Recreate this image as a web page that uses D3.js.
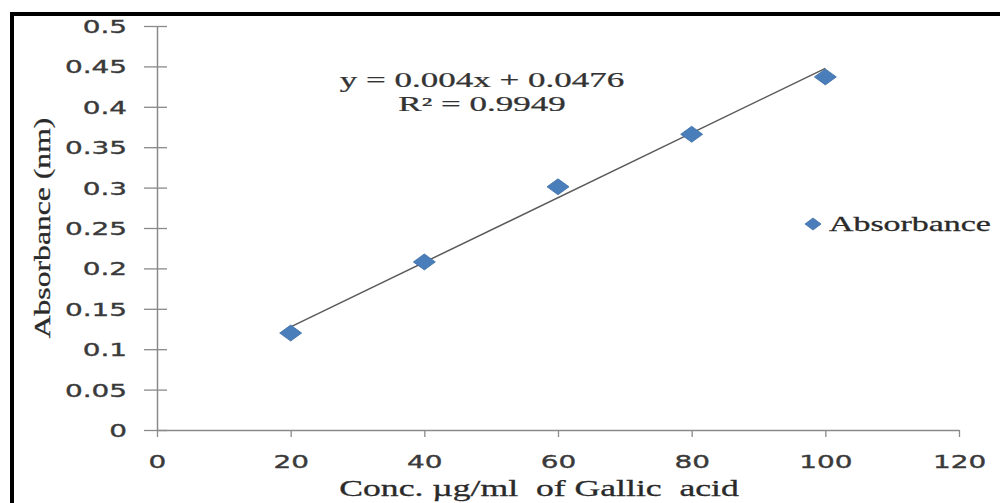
<!DOCTYPE html>
<html>
<head>
<meta charset="utf-8">
<script src="https://cdn.jsdelivr.net/npm/d3@7"></script>
<style>
  html, body { margin: 0; padding: 0; background: #fff; }
  svg { display: block; }
</style>
</head>
<body>
<svg id="chart" width="1000" height="503"></svg>
<script>
// ---- data ----
const concentrations = [20, 40, 60, 80, 100];
const absorbance = [0.12, 0.208, 0.301, 0.366, 0.437];
const trendSlope = 0.004;
const trendIntercept = 0.0476;
const equationLabel = "y = 0.004x + 0.0476";
const r2Label = "R\u00b2 = 0.9949";
const seriesName = "Absorbance";
const xTicks = [0, 20, 40, 60, 80, 100, 120];
const xTickLabels = ["0", "20", "40", "60", "80", "100", "120"];
const yTicks = [0, 0.05, 0.1, 0.15, 0.2, 0.25, 0.3, 0.35, 0.4, 0.45, 0.5];
const yTickLabels = ["0", "0.05", "0.1", "0.15", "0.2", "0.25", "0.3", "0.35", "0.4", "0.45", "0.5"];
const xTitle = "Conc. \u00b5g/ml \u00a0of Gallic \u00a0acid";
const yTitle = "Absorbance (nm)";

// ---- layout ----
const svg = d3.select("#chart");
const x = d3.scaleLinear().domain([0, 120]).range([157, 959]);
const y = d3.scaleLinear().domain([0, 0.5]).range([430, 26]);

const axisColor = "#8a8a8a";
const labelColor = "#3a3a3a";
const markerColor = "#4a7ebb";
const sansFont = "'DejaVu Sans', Verdana, sans-serif";
const serifFont = "'Liberation Serif', 'Times New Roman', serif";

svg.append("rect").attr("width", 1000).attr("height", 503).attr("fill", "#fff");

// frame (top and left black border)
svg.append("line").attr("x1", 10).attr("x2", 1000).attr("y1", 14).attr("y2", 14)
  .attr("stroke", "#000").attr("stroke-width", 4);
svg.append("line").attr("x1", 12).attr("x2", 12).attr("y1", 12).attr("y2", 503)
  .attr("stroke", "#000").attr("stroke-width", 4);

// y axis
const yAxis = svg.append("g")
  .attr("transform", `translate(${x(0)},0)`)
  .call(d3.axisLeft(y).tickValues(yTicks)
    .tickFormat((d, i) => yTickLabels[i])
    .tickSizeInner(13).tickSizeOuter(0));
yAxis.select(".domain").attr("stroke", axisColor).attr("stroke-width", 1.5);
yAxis.selectAll(".tick line").attr("x1", 10).attr("stroke", axisColor).attr("stroke-width", 1.3);
yAxis.selectAll(".tick text")
  .attr("x", 0).attr("dy", null).attr("y", 0)
  .attr("transform", "translate(-30,6.5) scale(1.55,1)")
  .attr("text-anchor", "end")
  .attr("font-family", sansFont).attr("font-size", 18)
  .attr("fill", labelColor).attr("stroke", labelColor).attr("stroke-width", 0.35);

// x axis
const xAxis = svg.append("g")
  .attr("transform", `translate(0,${y(0)})`)
  .call(d3.axisBottom(x).tickValues(xTicks)
    .tickFormat((d, i) => xTickLabels[i])
    .tickSizeInner(7).tickSizeOuter(0));
xAxis.select(".domain").attr("stroke", axisColor).attr("stroke-width", 1.5);
xAxis.selectAll(".tick line").attr("stroke", axisColor).attr("stroke-width", 1.3);
xAxis.selectAll(".tick text")
  .attr("y", 0).attr("dy", null)
  .attr("transform", "translate(0,38) scale(1.55,1)")
  .attr("text-anchor", "middle")
  .attr("font-family", sansFont).attr("font-size", 18)
  .attr("fill", labelColor).attr("stroke", labelColor).attr("stroke-width", 0.35);
svg.selectAll(".domain").attr("fill", "none");

// trend line
const trendX = [d3.min(concentrations), d3.max(concentrations)];
svg.append("line")
  .attr("x1", x(trendX[0])).attr("y1", y(trendSlope * trendX[0] + trendIntercept))
  .attr("x2", x(trendX[1])).attr("y2", y(trendSlope * trendX[1] + trendIntercept))
  .attr("stroke", "#5a5a5a").attr("stroke-width", 1.5);

// markers (diamonds)
function diamond(cx, cy, hw, hh) {
  return `M${cx - hw},${cy}L${cx},${cy - hh}L${cx + hw},${cy}L${cx},${cy + hh}Z`;
}
svg.append("g").selectAll("path")
  .data(concentrations.map((c, i) => ({ c, a: absorbance[i] })))
  .join("path")
  .attr("d", d => diamond(x(d.c), y(d.a), 11, 8))
  .attr("fill", markerColor)
  .attr("stroke", "#3f6fa6").attr("stroke-width", 0.8);

// equation
svg.append("text")
  .attr("transform", "translate(482,87) scale(1.75,1)")
  .attr("text-anchor", "middle")
  .attr("font-family", serifFont).attr("font-size", 20)
  .attr("fill", "#333").attr("stroke", "#333").attr("stroke-width", 0.25)
  .text(equationLabel);
svg.append("text")
  .attr("transform", "translate(482,111) scale(1.75,1)")
  .attr("text-anchor", "middle")
  .attr("font-family", serifFont).attr("font-size", 20)
  .attr("fill", "#333").attr("stroke", "#333").attr("stroke-width", 0.25)
  .text(r2Label);

// legend
svg.append("path").attr("d", diamond(813, 224, 8, 6))
  .attr("fill", markerColor).attr("stroke", "#3f6fa6").attr("stroke-width", 0.8);
svg.append("text")
  .attr("transform", "translate(829,231) scale(1.54,1)")
  .attr("text-anchor", "start")
  .attr("font-family", serifFont).attr("font-size", 22)
  .attr("fill", "#2a2a2a").attr("stroke", "#2a2a2a").attr("stroke-width", 0.3)
  .text(seriesName);

// axis titles
svg.append("text")
  .attr("transform", "translate(539,496) scale(1.55,1)")
  .attr("text-anchor", "middle")
  .attr("font-family", serifFont).attr("font-size", 23)
  .style("white-space", "pre")
  .attr("fill", "#2a2a2a").attr("stroke", "#2a2a2a").attr("stroke-width", 0.3)
  .text(xTitle);
svg.append("text")
  .attr("transform", "translate(50,228) rotate(-90) scale(1.32,1)")
  .attr("text-anchor", "middle")
  .attr("font-family", serifFont).attr("font-size", 24)
  .attr("fill", "#2a2a2a").attr("stroke", "#2a2a2a").attr("stroke-width", 0.3)
  .text(yTitle);
</script>
</body>
</html>
